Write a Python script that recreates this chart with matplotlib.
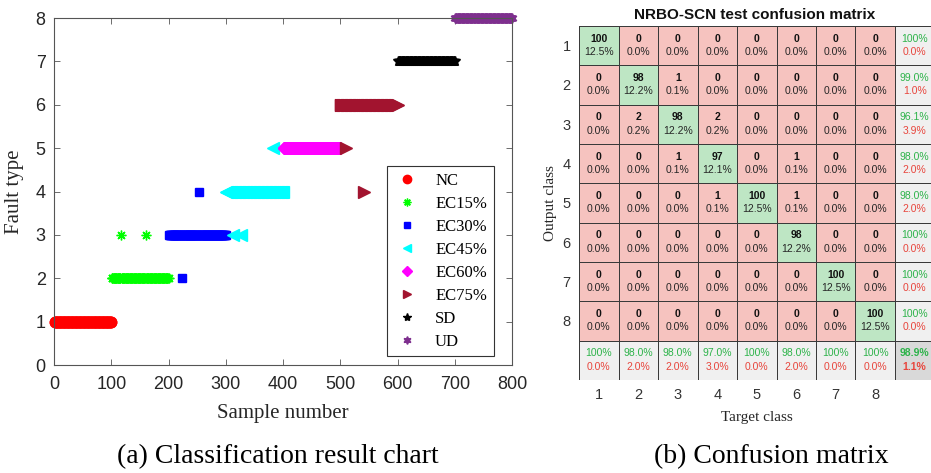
import matplotlib
matplotlib.use("Agg")
import matplotlib.pyplot as plt
import numpy as np
from matplotlib.colors import ListedColormap

# fault classes, 100 test samples each
class_names = ['NC', 'EC15%', 'EC30%', 'EC45%', 'EC60%', 'EC75%', 'SD', 'UD']
n_per_class = 100

# misclassified samples: sample number -> predicted class
wrong_idx = [117, 161, 223, 253, 312, 327, 383, 510, 542]
wrong_pred = [3, 3, 2, 4, 3, 3, 5, 5, 4]

markers = ['o', (8, 2, 0), 's', '<', 'D', '>', '*', (6, 1, 0)]
colors = ['#FF0000', '#00FF00', '#0000FF', '#00FFFF', '#FF00FF', '#A2142F', '#000000', '#7E2F8E']
msizes = [7.5, 7, 5.5, 8, 6.5, 8, 7.5, 7]

sans = 'Liberation Sans'
serif = 'Liberation Serif'

true_lbl = np.repeat(np.arange(1, 9), n_per_class)
pred_lbl = true_lbl.copy()
for i, p in zip(wrong_idx, wrong_pred):
    pred_lbl[i - 1] = p
sample = np.arange(1, len(true_lbl) + 1)

fig = plt.figure(figsize=(9.31, 4.73), dpi=100)

# ---------------- (a) classification result ----------------
ax = fig.add_axes([54/931, 1 - 365/473, 458/931, 347/473])
for k in range(8):
    sel = true_lbl == k + 1
    ax.plot(sample[sel], pred_lbl[sel], linestyle='none', marker=markers[k],
            color=colors[k], ms=msizes[k], mew=1.0, label=class_names[k], clip_on=False)

ax.set_xlim(0, 800)
ax.set_ylim(0, 8)
ax.set_xticks(np.arange(0, 801, 100))
ax.set_yticks(np.arange(0, 9, 1))
ax.tick_params(direction='in', top=True, right=True, length=4, width=0.6,
               color='#555555', labelsize=13)
ax.tick_params(axis='x', pad=8)
ax.tick_params(axis='y', pad=6)
for lab in ax.get_xticklabels() + ax.get_yticklabels():
    lab.set_fontfamily(sans)
    lab.set_color('#262626')
for s in ax.spines.values():
    s.set_color('#555555')
    s.set_linewidth(0.8)
ax.set_xlabel('Sample number', fontsize=15, family=serif, color='#262626', labelpad=8)
ax.set_ylabel('Fault type', fontsize=15, family=serif, color='#262626', labelpad=8)

leg = ax.legend(loc='lower right', bbox_to_anchor=(0.96, 0.025), prop={'family': serif, 'size': 12},
                frameon=True, fancybox=False, edgecolor='#333333', framealpha=1,
                handlelength=1.6, handletextpad=0.9, labelspacing=0.42, borderpad=0.4,
                borderaxespad=0, markerscale=0.8)
leg.get_frame().set_linewidth(0.8)

# ---------------- (b) confusion matrix ----------------
cm = np.zeros((8, 8), dtype=int)
for t, p in zip(true_lbl, pred_lbl):
    cm[p - 1, t - 1] += 1
total = cm.sum()

cax = fig.add_axes([579/931, 1 - 380/473, 355.5/931, 354/473])
cell_col = np.full((9, 9), 1)
np.fill_diagonal(cell_col[:8, :8], 0)
cell_col[8, :] = 2
cell_col[:, 8] = 2
cell_col[8, 8] = 3
cmap = ListedColormap(['#BEE6C4', '#F6C3BF', '#F0F0F0', '#D9D9D9'])
cax.pcolormesh(np.arange(10), np.arange(10), cell_col, cmap=cmap, vmin=-0.5, vmax=3.5,
               edgecolors='#3a3a3a', linewidth=0.7)
cax.set_xlim(0, 9)
cax.set_ylim(9, 0)


def pct(v):
    return '100%' if round(v, 1) == 100 else '%.1f%%' % v


green_txt = '#2DB34A'
red_txt = '#E8453C'
fs = 7.5
for r in range(8):
    for c in range(8):
        cax.text(c + 0.5, r + 0.32, str(cm[r, c]), ha='center', va='center',
                 fontsize=fs, fontweight='bold', family=sans, color='#111111')
        cax.text(c + 0.5, r + 0.66, '%.1f%%' % (100 * cm[r, c] / total), ha='center',
                 va='center', fontsize=fs, family=sans, color='#262626')
    # row summary (precision)
    prec = 100 * cm[r, r] / cm[r, :].sum()
    cax.text(8.5, r + 0.32, pct(prec), ha='center', va='center', fontsize=fs,
             family=sans, color=green_txt)
    cax.text(8.5, r + 0.66, pct(100 - prec), ha='center', va='center', fontsize=fs,
             family=sans, color=red_txt)
for c in range(8):
    rec = 100 * cm[c, c] / cm[:, c].sum()
    cax.text(c + 0.5, 8.32, pct(rec), ha='center', va='center', fontsize=fs,
             family=sans, color=green_txt)
    cax.text(c + 0.5, 8.66, pct(100 - rec), ha='center', va='center', fontsize=fs,
             family=sans, color=red_txt)
acc = 100 * np.trace(cm) / total
cax.text(8.5, 8.32, pct(acc), ha='center', va='center', fontsize=fs,
         fontweight='bold', family=sans, color=green_txt)
cax.text(8.5, 8.66, pct(100 - acc), ha='center', va='center', fontsize=fs,
         fontweight='bold', family=sans, color=red_txt)

cax.set_xticks(np.arange(8) + 0.5)
cax.set_xticklabels([str(i) for i in range(1, 9)])
cax.set_yticks(np.arange(8) + 0.5)
cax.set_yticklabels([str(i) for i in range(1, 9)])
cax.tick_params(length=0, labelsize=10.5, colors='#333333', pad=6)
for lab in cax.get_xticklabels() + cax.get_yticklabels():
    lab.set_fontfamily(sans)
for s in cax.spines.values():
    s.set_visible(False)
cax.set_xlabel('Target class', fontsize=11, family=serif, color='#262626', labelpad=6)
cax.set_ylabel('Output class', fontsize=11, family=serif, color='#262626', labelpad=4)
fig.text(755/931, 1 - 15/473, 'NRBO-SCN test confusion matrix', ha='center', va='center',
         fontsize=11, fontweight='bold', family=sans, color='#111111')

# captions
fig.text(278/931, 1 - 457/473, '(a) Classification result chart', ha='center', va='center',
         fontsize=20, family=serif)
fig.text(771/931, 1 - 457/473, '(b) Confusion matrix', ha='center', va='center',
         fontsize=20, family=serif)

fig.savefig('out.png', dpi=100)
